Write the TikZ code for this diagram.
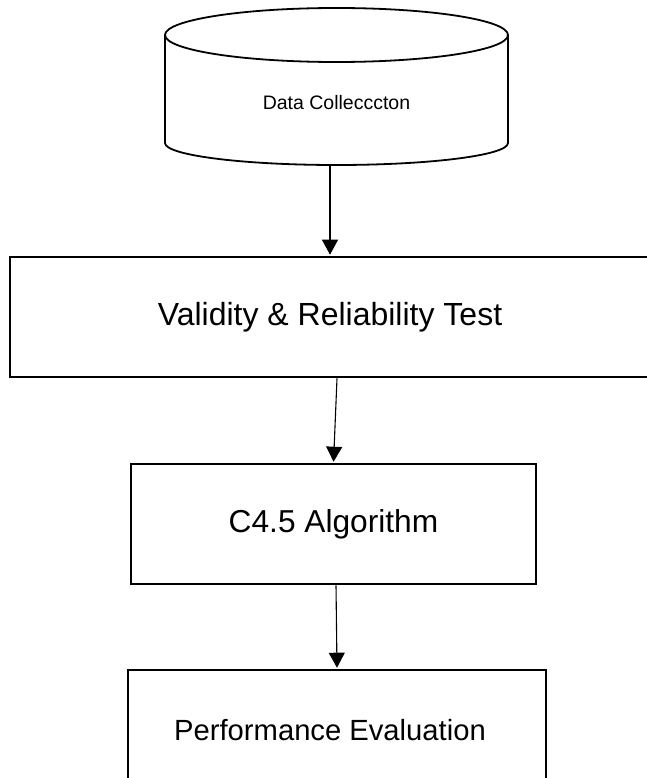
\documentclass[tikz,border=0pt]{standalone}
\usepackage{fontspec}
\setmainfont{Liberation Sans}
\usetikzlibrary{arrows.meta}
\begin{document}
\begin{tikzpicture}[x=1pt,y=-1pt,
  cyl/.style={line width=1.8pt},
  stage/.style={draw, line width=2.6pt, inner sep=0pt, fill=white},
  arr/.style={line width=1.1pt, -{Triangle[length=15pt,width=16pt]}, shorten >=1pt}]
\useasboundingbox[fill=white] (0,0) rectangle (646,778);

% data store drawn as a cylinder
\draw[cyl, fill=white] (165,35) -- (165,143)
  arc[start angle=180, end angle=0, x radius=171.5, y radius=22]
  -- (508,35);
\draw[cyl] (336.5,35) ellipse[x radius=171.5, y radius=27];
\node (dc) at (336.5,103) {\fontsize{19.5}{23}\selectfont Data Collecccton};
\coordinate (dcb) at (330,165);

% process stages
\node[stage, minimum width=640pt, minimum height=120pt, font=\fontsize{32}{38}\selectfont] (vr) at (330,317) {Validity \& Reliability Test};
\node[stage, minimum width=405pt, minimum height=120pt, font=\fontsize{31.7}{38}\selectfont] (alg) at (333.5,524) {\raisebox{-3pt}{C4.5 Algorithm}};
\node[stage, minimum width=418pt, minimum height=120pt, font=\fontsize{29.2}{35}\selectfont] (pe) at (337,730) {\hspace*{-14pt}Performance Evaluation};

% connectors
\draw[arr] (dcb) -- (vr.north);
\draw[arr] ([xshift=7pt]vr.south) -- (alg.north);
\draw[arr] ([xshift=2.5pt]alg.south) -- (pe.north);
\end{tikzpicture}
\end{document}
